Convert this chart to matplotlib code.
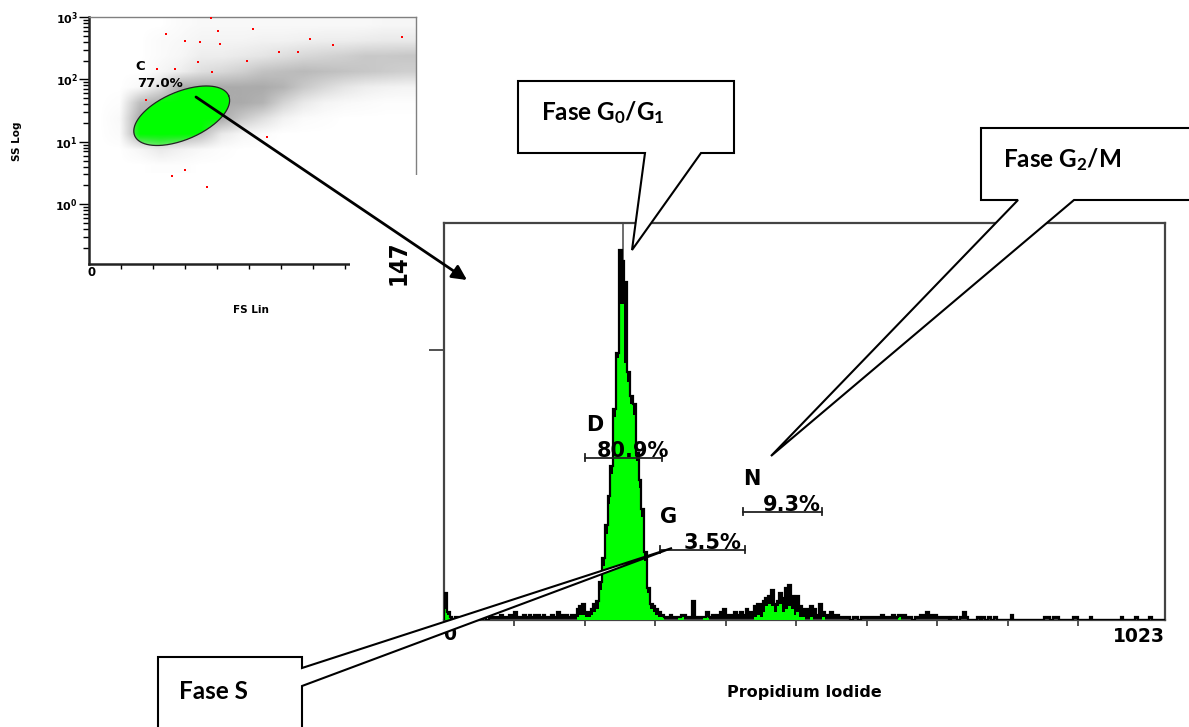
import numpy as np
import matplotlib
matplotlib.use('Agg')
import matplotlib.pyplot as plt
from matplotlib.patches import Polygon, Rectangle
from matplotlib.ticker import FixedLocator

plt.rcParams['mathtext.fontset'] = 'custom'
plt.rcParams['mathtext.rm'] = 'Lato:bold'
plt.rcParams['mathtext.it'] = 'Lato:bold'
plt.rcParams['mathtext.bf'] = 'Lato:bold'

# ---- FS/SS dot plot: event density, FS (0-1023) x log10(SS) ----
ss_rows_top = 3.0     # log10 SS of the top density row edge
ss_rows_bottom = 0.5
ss_density = [
    [0, 0, 0, 0, 0.2, 0.3, 0.3, 0.3, 0.3, 0.3, 0.3, 0.3, 0.3, 0.3, 0.4, 0.4],
    [0, 0, 0, 0.2, 0.3, 0.5, 0.5, 0.5, 0.6, 0.6, 0.7, 0.8, 0.8, 0.9, 1.0, 1.0],
    [0, 0, 0, 0.2, 0.4, 0.8, 0.8, 1.0, 1.2, 1.5, 1.8, 2.0, 2.2, 2.5, 2.5, 2.6],
    [0, 0, 0, 0.4, 0.8, 1.5, 1.8, 2.2, 2.8, 3.0, 3.2, 3.0, 2.8, 2.6, 2.4, 2.2],
    [0, 0, 0.3, 1.5, 4, 5, 4, 4, 4, 3.5, 2.5, 1.8, 1.2, 0.8, 0.6, 0.5],
    [0, 0.1, 3, 8, 9, 9, 6, 4.5, 3.5, 2, 1, 0.5, 0.3, 0.2, 0.1, 0.1],
    [0, 0.3, 7, 9, 9, 8, 4, 2.5, 1.5, 0.6, 0.2, 0.1, 0, 0, 0, 0],
    [0, 0.2, 5, 8, 7, 3, 1, 0.4, 0.2, 0, 0, 0, 0, 0, 0, 0],
    [0, 0, 0.4, 1, 0.6, 0.3, 0.1, 0, 0, 0, 0, 0, 0, 0, 0, 0],
    [0, 0, 0, 0.1, 0.1, 0, 0, 0, 0, 0, 0, 0, 0, 0, 0, 0],
]
# off-scale / excluded events shown in red
red_fs = [240, 300, 347, 410, 512, 692, 653, 593, 341, 270, 212, 384,
          300, 259, 370, 177, 556, 493, 764, 978, 405, 382]
red_ss = [2.73, 2.62, 2.60, 2.57, 2.81, 2.65, 2.44, 2.44, 2.28, 2.16, 2.16, 2.12,
          0.55, 0.45, 0.27, 1.67, 1.08, 2.30, 2.55, 2.68, 2.78, 2.98]
# gate C: center and the two semi-axis vectors (FS, log10 SS)
gate_center = (290, 1.417)
gate_major = (147, 0.321)
gate_minor = (29.4, -0.353)
gate_label = 'C'
gate_pct = 77.0

# ---- PI histogram, 4 channels per bin ----
bin_width = 4
pi_total = ([10, 3, 1]
            + [0, 1, 0, 0, 1, 0, 1, 0, 1, 0, 0, 1, 0, 1, 1]
            + [1, 1, 2, 1, 1, 2, 1] + [3] + [1, 1, 2, 1]
            + [2, 1, 2, 2, 1, 2, 1] + [1, 2, 1] + [3]
            + [1, 2, 2, 1, 2, 2] + [4, 5, 6, 3, 3, 4]
            + [6, 7, 14, 23, 35, 46, 57, 78, 99, 137, 133, 125,
               92, 83, 80, 62, 52, 41, 25, 12, 6, 5, 4, 3]
            + [2, 1, 1, 2, 1, 1, 1, 2, 2, 1, 1, 7]
            + [1, 1, 1, 1, 3] + [1, 2, 1] + [2, 3, 4, 2]
            + [2, 2, 3, 2, 3, 2, 4, 3, 3]
            + [5, 6, 6, 7, 8, 9, 11, 6, 7, 10, 8, 12, 13, 9, 7, 9,
               5, 4, 4, 3, 5, 4, 2, 6, 3]
            + [2, 2, 3, 2, 2, 1] + [1, 1, 1, 0, 1, 1, 0, 1, 1, 1]
            + [1, 1, 1, 1, 2, 1, 1, 1, 2, 1] + [2, 2, 2, 1] + [1, 0, 1, 1]
            + [2, 2, 3, 2, 2, 2, 1] + [1, 1, 1, 0, 1, 1]
            + [0, 1, 3, 1, 0, 0, 0] + [1, 0, 1, 0, 1] + [0, 1, 0, 0, 0, 0, 0]
            + [2] + [0] * 11 + [1, 1, 0, 1, 1] + [0] * 5 + [1, 1]
            + [0] * 4 + [1] + [0] * 10 + [1] + [0] * 4 + [1] + [0] * 4
            + [1] + [0] * 5)
pi_gated = ([4, 2] + [0] * 45
            + [1, 2, 2, 1, 1, 2]
            + [3, 4, 11, 20, 32, 43, 54, 75, 97, 117, 117, 95,
               88, 80, 76, 59, 49, 38, 22, 10, 4, 3, 2, 1]
            + [1, 0, 0, 0, 0, 0, 1, 1, 0, 0, 0, 0]
            + [0, 0, 0, 1, 1] + [0] * 16
            + [1, 2, 1, 3, 5, 6, 5, 3, 5, 6, 3, 4, 5, 4, 2, 3,
               1, 1, 0, 0, 1, 0, 0, 0, 1]
            + [0] * 26 + [1] + [0] * 94)
pi_max = 147
g1_cursor = 254
# cell-cycle markers: name, percent, channel range, marker height
marker_names = ['D', 'G', 'N']
marker_pcts = [80.9, 3.5, 9.3]
marker_start = [200, 306, 424]
marker_end = [309, 427, 536]
marker_level = [60, 26, 40]

W, H = 1189, 727
fig = plt.figure(figsize=(W / 100, H / 100), dpi=100)

def px_axes(x0, y0, x1, y1, **kw):
    return fig.add_axes([x0 / W, 1 - y1 / H, (x1 - x0) / W, (y1 - y0) / H], **kw)

# ---------------- dot plot ----------------
ax_s = px_axes(89, 17, 416, 264, zorder=1)
dens = np.array(ss_density, dtype=float)
ext = (0, 1024, ss_rows_bottom, ss_rows_top)
gray = np.zeros(dens.shape + (4,))
gray[..., :3] = 0.45
gray[..., 3] = np.clip(dens / 6.5, 0, 0.6)
ax_s.imshow(gray, extent=ext, aspect='auto', interpolation='bilinear',
            origin='upper', zorder=1)

t = np.linspace(0, 2 * np.pi, 240)
gx = gate_center[0] + np.cos(t) * gate_major[0] + np.sin(t) * gate_minor[0]
gy = gate_center[1] + np.cos(t) * gate_major[1] + np.sin(t) * gate_minor[1]
gate_poly = Polygon(np.column_stack([gx, gy]), closed=True, transform=ax_s.transData)
green = np.zeros(dens.shape + (4,))
green[..., 1] = 1.0
green[..., 3] = np.clip(dens / 2.5, 0, 1)
im_g = ax_s.imshow(green, extent=ext, aspect='auto', interpolation='bilinear',
                   origin='upper', zorder=2)
im_g.set_clip_path(gate_poly)
ax_s.plot(gx, gy, color='#222222', lw=0.9, zorder=3)
ax_s.plot(red_fs, red_ss, 's', color='red', ms=1.6, mew=0, zorder=3)

ax_s.text(144, 2.15, gate_label, fontsize=9.5, fontweight='bold', family='DejaVu Sans')
ax_s.text(152, 1.88, f'{gate_pct:.1f}%', fontsize=9.5, fontweight='bold', family='DejaVu Sans')

ax_s.set_xlim(0, 1023)
ax_s.set_ylim(-0.96, 3.0)
ax_s.set_xticks(np.arange(100, 1001, 100))
ax_s.set_xticklabels([])
ax_s.set_yticks([0, 1, 2, 3])
ax_s.set_yticklabels([r'$\mathbf{10^{%d}}$' % k for k in range(4)], math_fontfamily='dejavusans')
minor = [np.log10(m) + k for k in range(-1, 3) for m in range(2, 10)]
ax_s.yaxis.set_minor_locator(FixedLocator([v for v in minor if v > -0.96]))
ax_s.tick_params(axis='y', which='major', direction='out', length=7, width=1, labelsize=8, pad=1)
ax_s.tick_params(axis='y', which='minor', direction='out', length=4, width=1)
ax_s.tick_params(axis='x', which='major', direction='out', length=3.5, width=1)
for side in ['left', 'bottom']:
    ax_s.spines[side].set_linewidth(1.8)
    ax_s.spines[side].set_color('#222222')
for side in ['top', 'right']:
    ax_s.spines[side].set_linewidth(1.0)
    ax_s.spines[side].set_color('#808080')
fig.text(92 / W, 1 - 273 / H, '0', fontsize=8.5, fontweight='bold', ha='center', va='center')
fig.text(17 / W, 1 - 141 / H, 'SS Log', fontsize=7.5, fontweight='bold', rotation=90,
         ha='center', va='center')
fig.text(251 / W, 1 - 310 / H, 'FS Lin', fontsize=7.5, fontweight='bold', ha='center', va='center')

# white sheet the histogram panel sits on
ax_cover = fig.add_axes([0, 0, 1, 1], zorder=2)
ax_cover.set_xlim(0, W)
ax_cover.set_ylim(H, 0)
ax_cover.axis('off')
ax_cover.add_patch(Rectangle((350, 175), W, H, facecolor='white', edgecolor='none'))

# ---------------- PI histogram ----------------
ax_h = px_axes(444, 223, 1165, 620, zorder=3)
edges = np.arange(0, 1024 + bin_width, bin_width)
ax_h.axvline(g1_cursor, color='#555555', lw=1.2, zorder=1)
ax_h.stairs(pi_total, edges, fill=True, color='black', lw=0, zorder=2)
ax_h.stairs(pi_gated, edges, fill=True, color='#00ff00', lw=0, zorder=3)
ax_h.stairs(pi_total, edges, color='black', lw=1.6, zorder=4)

for name, pct, s, e, lvl in zip(marker_names, marker_pcts, marker_start, marker_end, marker_level):
    ax_h.plot([s, e], [lvl, lvl], color='#222222', lw=1.3, zorder=5)
    ax_h.plot([s, s], [lvl - 1.3, lvl + 1.3], color='#222222', lw=1.3, zorder=5)
    ax_h.plot([e, e], [lvl - 1.3, lvl + 1.3], color='#222222', lw=1.3, zorder=5)
    ax_h.text(s + 1, lvl + 10, name, fontsize=15, fontweight='bold', family='DejaVu Sans',
              va='baseline', zorder=6)
    ax_h.text((s + e) / 2 + 14, lvl + 0.3, f'{pct:.1f}%', fontsize=15, fontweight='bold',
              family='DejaVu Sans', ha='center', va='baseline', zorder=6)

ax_h.set_xlim(0, 1023)
ax_h.set_ylim(0, pi_max)
ax_h.set_xticks(np.arange(100, 1000, 100))
ax_h.set_xticklabels([])
ax_h.set_yticks([100])
ax_h.set_yticklabels([])
ax_h.tick_params(axis='x', direction='out', length=4, width=1.2, color='#333333')
ax_h.tick_params(axis='y', direction='out', length=10.5, width=1.2, color='#333333')
for sp in ax_h.spines.values():
    sp.set_linewidth(1.6)
    sp.set_color('#444444')
ax_h.text(0.5, -0.182, 'Propidium Iodide', transform=ax_h.transAxes, fontsize=11.5,
          fontweight='bold', ha='center', va='center')
ax_h.text(8, -0.013, '0', transform=ax_h.get_xaxis_transform(), fontsize=13.5,
          fontweight='bold', ha='center', va='top')
ax_h.text(1023, -0.018, '1023', transform=ax_h.get_xaxis_transform(), fontsize=13.5,
          fontweight='bold', ha='right', va='top')
ax_h.text(-0.063, 0.955, str(pi_max), transform=ax_h.transAxes, fontsize=17, fontweight='bold',
          family='DejaVu Sans', fontstretch='condensed', rotation=90, ha='center', va='top')

# ---------------- callouts and arrow ----------------
ax_o = fig.add_axes([0, 0, 1, 1], zorder=4)
ax_o.set_xlim(0, W)
ax_o.set_ylim(H, 0)
ax_o.axis('off')
callouts = [
    ([(518, 81), (734, 81), (734, 153), (701, 153), (632, 250), (645, 153), (518, 153)],
     (541, 120), r'Fase G$_{0}$/G$_{1}$'),
    ([(981, 128), (1200, 128), (1200, 200), (1074, 200), (771, 456), (1018, 200), (981, 200)],
     (1003, 167), r'Fase G$_{2}$/M'),
    ([(158, 657), (302, 657), (302, 668), (672, 548), (302, 686), (302, 740), (158, 740)],
     (179, 699), 'Fase S'),
]
for pts, (tx, ty), label in callouts:
    ax_o.add_patch(Polygon(pts, closed=True, facecolor='white', edgecolor='black', lw=1.5))
    ax_o.text(tx, ty, label, fontsize=17.5, fontweight='bold', family='Lato', va='baseline')
ax_o.annotate('', xy=(467, 280), xytext=(196, 97),
              arrowprops=dict(arrowstyle='-|>', color='black', lw=2, mutation_scale=22,
                              shrinkA=0, shrinkB=0))

fig.savefig('out.png', dpi=100)
